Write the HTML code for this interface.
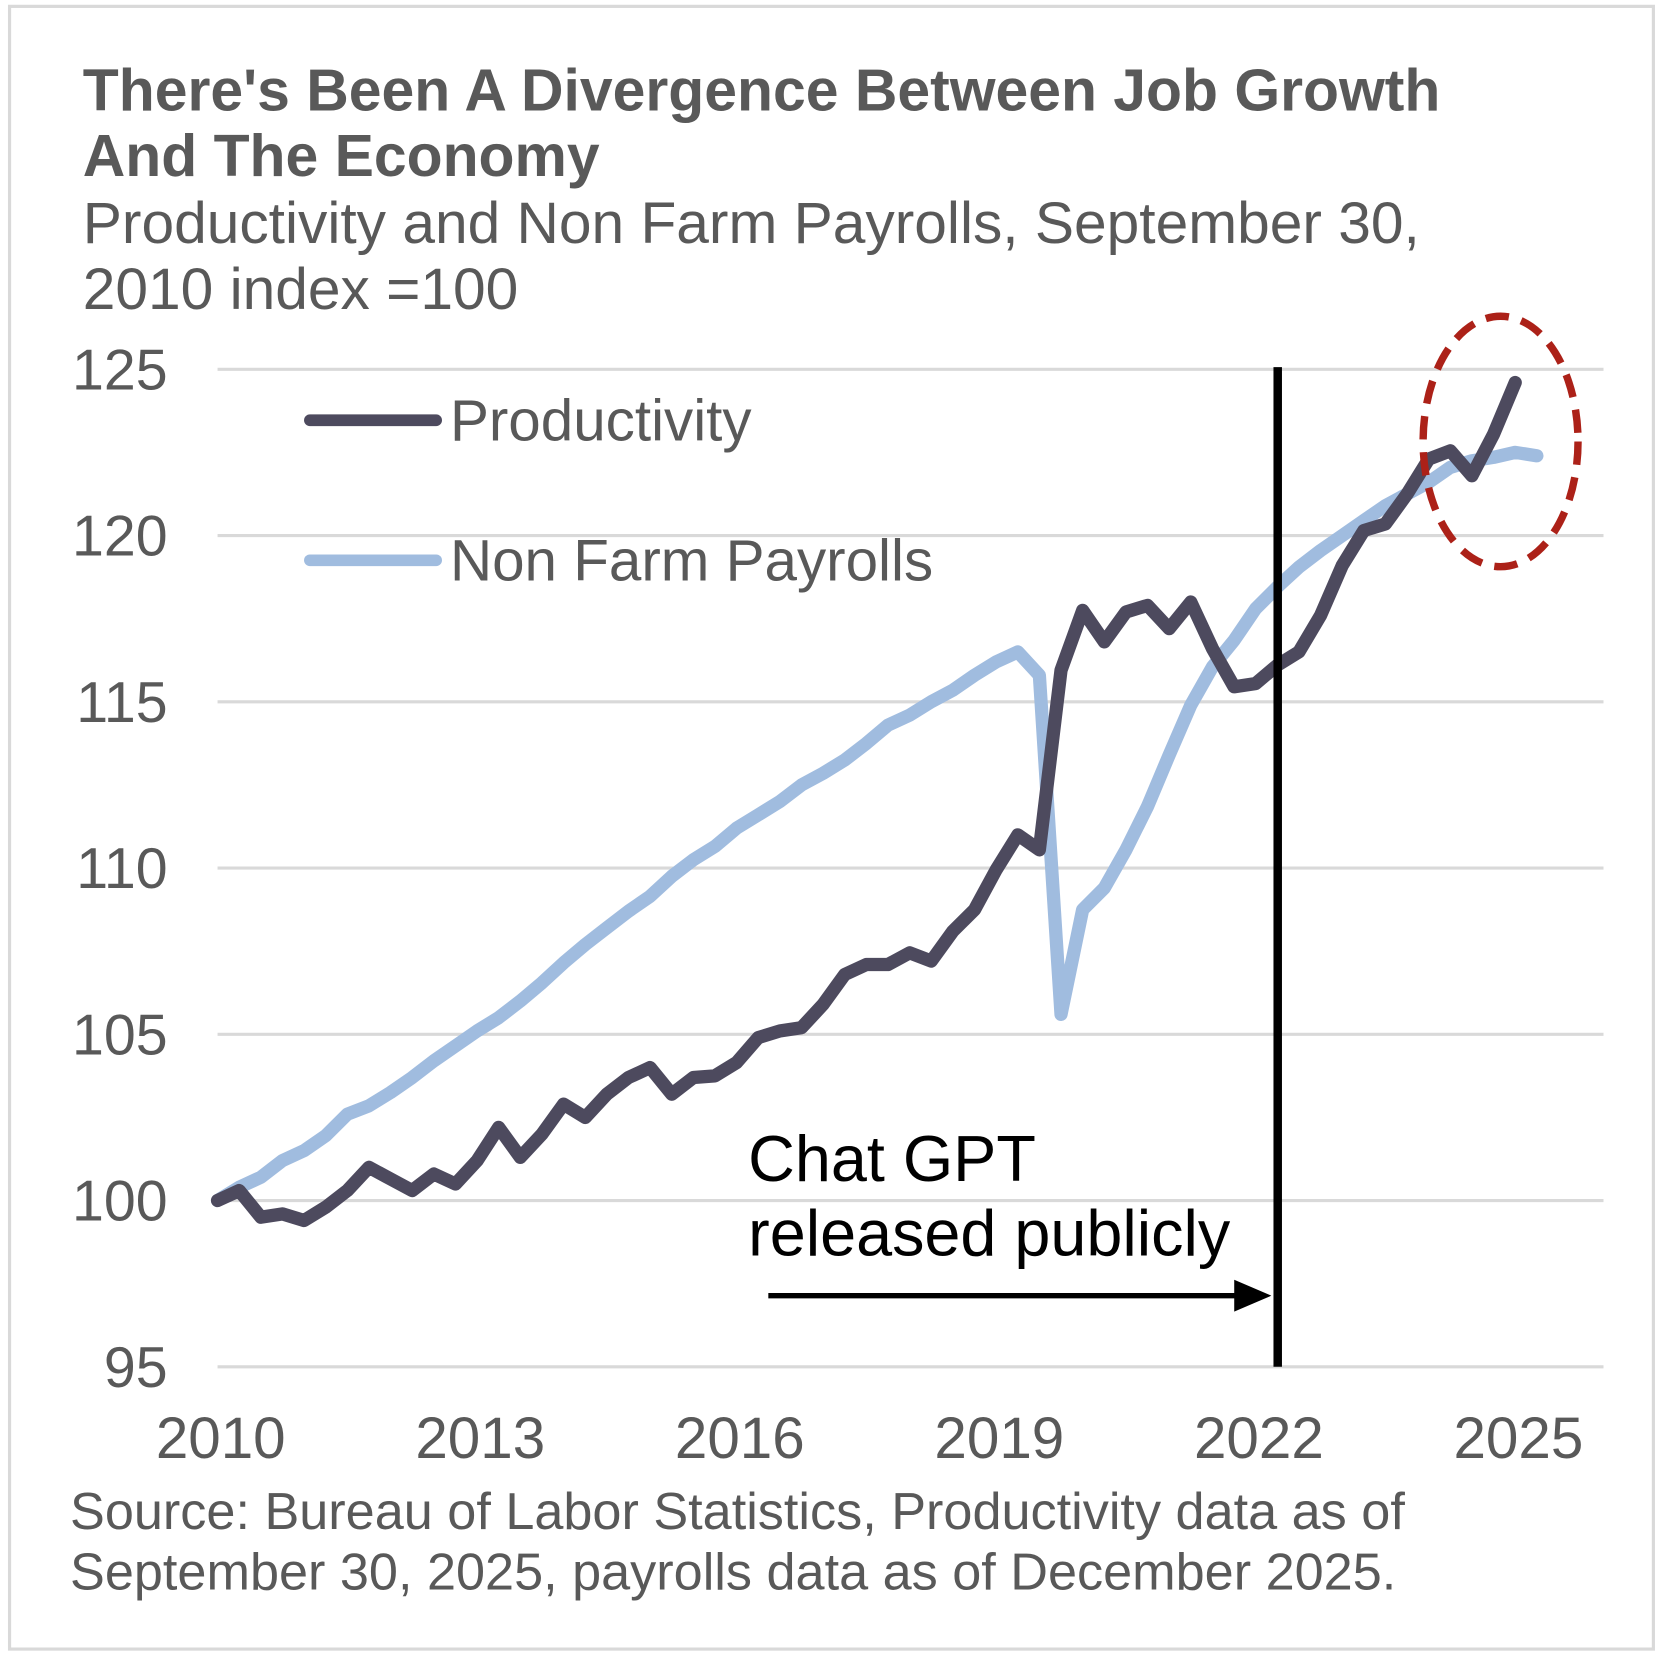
<!DOCTYPE html>
<html><head><meta charset="utf-8"><style>
html,body{margin:0;padding:0;background:#fff;}
svg{display:block;font-family:"Liberation Sans",Arial,sans-serif;}
</style></head><body>
<svg id="chart" width="1664" height="1658" viewBox="0 0 1568 1562.4" preserveAspectRatio="none" xmlns="http://www.w3.org/2000/svg">
<rect x="9" y="6" width="1549" height="1548" fill="#fff" stroke="#d9d9d9" stroke-width="3"/>
<text font-weight="bold" font-size="55.5" fill="#595959"><tspan x="78" y="104">There's Been A Divergence Between Job Growth</tspan><tspan x="78" y="166">And The Economy</tspan></text>
<text font-size="55.3" fill="#595959"><tspan x="78" y="229">Productivity and Non Farm Payrolls, September 30,</tspan><tspan x="78" y="291">2010 index =100</tspan></text>
<g id="grid"></g>
<g id="ylabels"></g>
<g id="xlabels"></g>
<g id="series"></g>
<line x1="1204" y1="346" x2="1204" y2="1288" stroke="#000" stroke-width="8"/>
<text font-size="61" fill="#000"><tspan x="705" y="1113">Chat GPT</tspan><tspan x="705" y="1183">released publicly</tspan></text>
<line x1="724" y1="1221" x2="1168" y2="1221" stroke="#000" stroke-width="5"/>
<polygon points="1163,1206 1198,1221 1163,1236" fill="#000"/>
<ellipse cx="1414" cy="416" rx="73" ry="118" fill="none" stroke="#ac2118" stroke-width="7" stroke-dasharray="22,12"/>
<g>
<line x1="292" y1="396" x2="411" y2="396" stroke="#4d4a5e" stroke-width="11" stroke-linecap="round"/>
<text x="424" y="415" font-size="55" fill="#595959">Productivity</text>
<line x1="292" y1="528" x2="411" y2="528" stroke="#a0bcdf" stroke-width="11" stroke-linecap="round"/>
<text x="424" y="547" font-size="55" fill="#595959">Non Farm Payrolls</text>
</g>
<text font-size="49.2" fill="#595959"><tspan x="66" y="1441">Source: Bureau of Labor Statistics, Productivity data as of</tspan><tspan x="66" y="1498">September 30, 2025, payrolls data as of December 2025.</tspan></text>
</svg>
<script>
const yTicks = [95, 100, 105, 110, 115, 120, 125];
const xTickLabels = ["2010", "2013", "2016", "2019", "2022", "2025"];
const productivity = [100,100.3,99.5,99.6,99.4,99.8,100.3,101.0,100.65,100.3,100.8,100.5,101.2,102.2,101.3,102.0,102.9,102.5,103.2,103.7,104.0,103.2,103.7,103.75,104.15,104.9,105.1,105.2,105.9,106.8,107.1,107.1,107.45,107.2,108.1,108.75,109.95,111.0,110.55,115.95,117.75,116.8,117.7,117.9,117.2,118.0,116.6,115.45,115.55,116.1,116.5,117.6,119.1,120.15,120.35,121.25,122.3,122.55,121.8,123.05,124.6];
const payrolls = [100,100.4,100.7,101.2,101.5,101.95,102.6,102.85,103.25,103.7,104.2,104.65,105.1,105.5,106.0,106.55,107.15,107.7,108.2,108.7,109.15,109.75,110.25,110.65,111.2,111.6,112.0,112.5,112.85,113.25,113.75,114.3,114.6,115.0,115.35,115.8,116.2,116.5,115.8,105.6,108.75,109.4,110.55,111.85,113.4,114.9,116.05,116.85,117.8,118.45,119.05,119.55,120.0,120.45,120.9,121.25,121.6,122.05,122.25,122.35,122.5,122.4];

const NS = "http://www.w3.org/2000/svg";
const yMin = 95, yMax = 125, yTop = 348, yBot = 1288;
function yScale(v){ return yBot - (v - yMin) / (yMax - yMin) * (yBot - yTop); }
const x0 = 205, qStep = 20.38;
function xScale(i){ return x0 + i * qStep; }
function mk(tag, attrs){ const e = document.createElementNS(NS, tag); for (const k in attrs) e.setAttribute(k, attrs[k]); return e; }

const grid = document.getElementById('grid');
const yl = document.getElementById('ylabels');
yTicks.forEach(t => {
  const y = yScale(t);
  const ln = mk('line', {x1: 205, x2: 1511, y1: y, y2: y, stroke: '#d9d9d9', 'stroke-width': 3});
  
  
  grid.appendChild(ln);
  const tx = mk('text', {x: 158, y: y + 19, 'text-anchor': 'end', 'font-size': 54, fill: '#595959'});
  tx.textContent = t;
  
  
  yl.appendChild(tx);
});
const xl = document.getElementById('xlabels');
xTickLabels.forEach((lab, k) => {
  const tx = mk('text', {x: xScale(k * 12) + 3, y: 1374, 'text-anchor': 'middle', 'font-size': 55, fill: '#595959'});
  tx.textContent = lab;
  
  
  xl.appendChild(tx);
});
const series = document.getElementById('series');
function drawLine(data, color, name){
  const pts = data.map((v, i) => xScale(i).toFixed(1) + ',' + yScale(v).toFixed(1)).join(' ');
  const pl = mk('polyline', {points: pts, fill: 'none', stroke: color, 'stroke-width': 12.5, 'stroke-linejoin': 'round', 'stroke-linecap': 'round'});
  
  
  series.appendChild(pl);
}
drawLine(payrolls, '#a0bcdf', 'payrolls-line');
drawLine(productivity, '#4d4a5e', 'productivity-line');
</script>
</body></html>
